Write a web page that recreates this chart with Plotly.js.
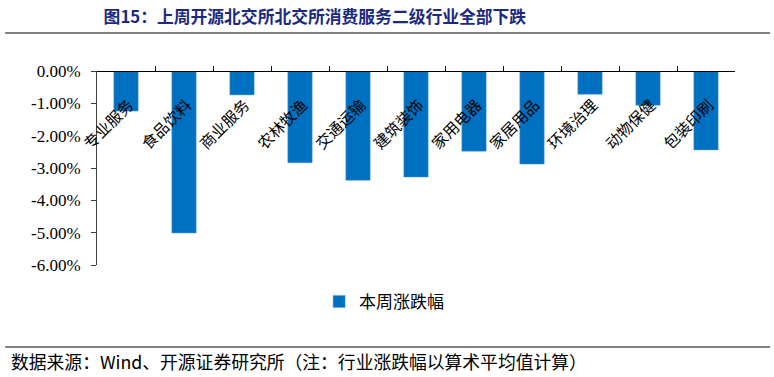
<!DOCTYPE html>
<html>
<head>
<meta charset="utf-8">
<script src="https://cdn.plot.ly/plotly-3.0.1.min.js"></script>
<style>html,body{margin:0;padding:0;background:#fff;}#chart{width:774px;height:377px;}</style>
</head>
<body>
<div id="chart"></div>
<script>
const categories = ["专业服务","食品饮料","商业服务","农林牧渔","交通运输","建筑装饰","家用电器","家居用品","环境治理","动物保健","包装印刷"];
const weeklyChange = [-1.24,-5.01,-0.74,-2.84,-3.38,-3.28,-2.48,-2.88,-0.72,-1.06,-2.44];
const yTickVals = [0,-1,-2,-3,-4,-5,-6];
const yTickText = ["0.00%","-1.00%","-2.00%","-3.00%","-4.00%","-5.00%","-6.00%"];
const seriesName = "本周涨跌幅";
const titleText = "图15：上周开源北交所北交所消费服务二级行业全部下跌";
const sourceText = "数据来源：Wind、开源证券研究所（注：行业涨跌幅以算术平均值计算）";

const cjk = 'Noto Sans CJK SC, sans-serif';
const serif = 'Liberation Serif, Times New Roman, serif';

const trace = {
  type: 'bar',
  x: categories,
  y: weeklyChange,
  name: seriesName,
  marker: {color: '#0070C0', line: {color: '#5B9BD5', width: 0.5}},
  hoverinfo: 'x+y'
};

const layout = {
  width: 774, height: 377,
  margin: {l: 97, r: 39, t: 71, b: 112},
  paper_bgcolor: '#fff', plot_bgcolor: '#fff',
  bargap: 0.58,
  showlegend: true,
  title: {
    text: '<b>' + titleText + '</b>',
    font: {family: cjk, size: 16.8, color: '#1B2A80'},
    x: 8/774, xanchor: 'left', xref: 'paper',
    y: 1 - 17/377, yanchor: 'middle', yref: 'container'
  },
  xaxis: {
    type: 'category',
    anchor: 'free', position: 1, side: 'bottom',
    showline: true, linecolor: '#000', linewidth: 1,
    ticks: 'inside', ticklen: 5, tickcolor: '#000', tickson: 'boundaries',
    tickangle: -45, ticklabelstandoff: 18, ticklabelshift: 3,
    tickfont: {family: cjk, size: 15.5, color: '#000'},
    showgrid: false, zeroline: false, automargin: false
  },
  yaxis: {
    range: [-6, 0],
    tickvals: yTickVals, ticktext: yTickText,
    showline: true, linecolor: '#404040', linewidth: 1,
    ticks: 'outside', ticklen: 5, tickcolor: '#404040', ticklabelstandoff: 7,
    tickfont: {family: serif, size: 17, color: '#000'},
    showgrid: false, zeroline: false, automargin: false
  },
  legend: {
    orientation: 'h', x: 0.45, xanchor: 'center', y: -0.19, yanchor: 'middle',
    font: {family: cjk, size: 17, color: '#000'}
  },
  shapes: [
    {type: 'line', xref: 'paper', yref: 'paper', x0: -0.144, x1: 1.055, y0: 1.196, y1: 1.196, line: {color: '#808080', width: 2}},
    {type: 'line', xref: 'paper', yref: 'paper', x0: -0.144, x1: 1.055, y0: -0.423, y1: -0.423, line: {color: '#808080', width: 2}}
  ],
  annotations: [
    {text: sourceText, xref: 'paper', yref: 'paper', x: -0.138, y: -0.495, xanchor: 'left', yanchor: 'middle', showarrow: false,
     font: {family: cjk, size: 17.8, color: '#000'}}
  ]
};

Plotly.newPlot('chart', [trace], layout, {displayModeBar: false, staticPlot: true});
</script>
</body>
</html>
